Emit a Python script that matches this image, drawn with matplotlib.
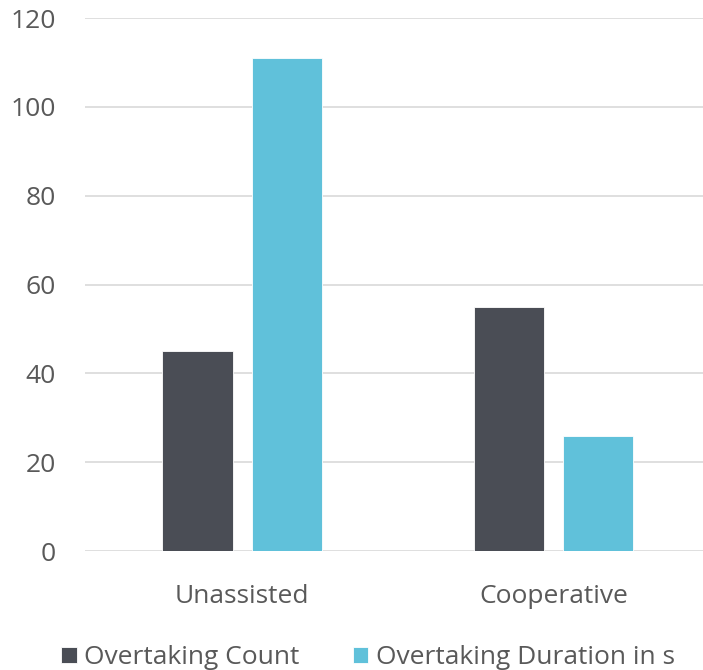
import matplotlib
matplotlib.use("Agg")
import matplotlib.pyplot as plt
import numpy as np

categories = ["Unassisted", "Cooperative"]
overtaking_count = [45, 55]
overtaking_duration = [111, 26]
series_labels = ["Overtaking Count", "Overtaking Duration in s"]

DARK = "#4A4D55"
LIGHT = "#60C1DA"
TEXT = "#595959"
GRID = "#D9D9D9"

plt.rcParams["font.family"] = ["Open Sans", "DejaVu Sans"]

fig = plt.figure(figsize=(7.03, 6.70), dpi=100)
ax = fig.add_axes([0.121, 0.1776, 0.879, 0.7954])

x = np.arange(len(categories))
width = 0.225
offset = 0.143

ax.bar(x - offset, overtaking_count, width,
       color=DARK, edgecolor="white", linewidth=0.6,
       label=series_labels[0], zorder=3)
ax.bar(x + offset, overtaking_duration, width,
       color=LIGHT, edgecolor="white", linewidth=0.6,
       label=series_labels[1], zorder=3)

ax.set_xlim(-0.504, 1.48)
ax.set_ylim(0, 120)
ax.set_yticks(range(0, 121, 20))
ax.set_xticks(x)
ax.set_xticklabels(categories)

ax.yaxis.grid(True, color=GRID, linewidth=1.2, zorder=0)
for s in ax.spines.values():
    s.set_visible(False)
ax.tick_params(axis="both", length=0, labelsize=19, labelcolor=TEXT)
ax.tick_params(axis="y", pad=21)
ax.tick_params(axis="x", pad=24)

fig.legend(loc="center", bbox_to_anchor=(368 / 703, 1 - 658 / 670),
           ncol=2, frameon=False, fontsize=19, labelcolor=TEXT,
           handlelength=0.58, handleheight=0.58, handletextpad=0.3,
           columnspacing=2.0, borderpad=0, borderaxespad=0)

fig.savefig("out.png", dpi=100)
plt.close(fig)
